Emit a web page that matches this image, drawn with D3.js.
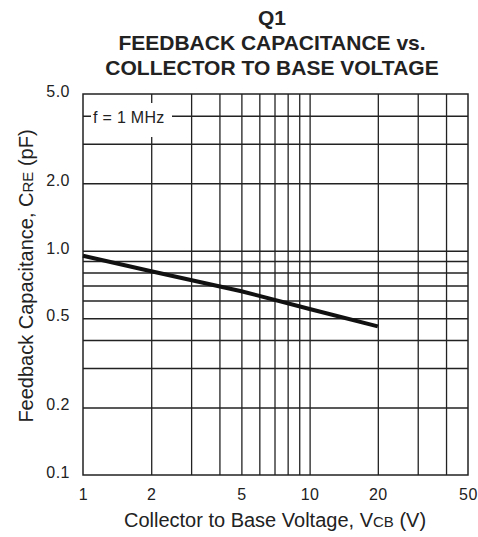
<!DOCTYPE html>
<html>
<head>
<meta charset="utf-8">
<script src="https://cdn.jsdelivr.net/npm/d3@7"></script>
<style>
  body { margin: 0; background: #fff; }
  text { font-family: "Liberation Sans", Arial, sans-serif; fill: #222; }
</style>
</head>
<body>
<div id="chart"></div>
<script>
// size of the picture
var w = 478;
var h = 537;
var margin = { top: 94, right: 10, bottom: 62, left: 83 };

// data
var voltage = [1, 2, 5, 10, 20];
var capacitance = [0.95, 0.81, 0.66, 0.55, 0.46];

// grid lines and tick labels
var xGrid = [2, 3, 4, 5, 6, 7, 8, 9, 10, 20, 30, 40];
var yGrid = [0.2, 0.3, 0.4, 0.5, 0.6, 0.7, 0.8, 0.9, 1.0, 2.0, 3.0, 4.0];
var xTicks = [1, 2, 5, 10, 20, 50];
var yTicks = [0.1, 0.2, 0.5, 1.0, 2.0, 5.0];
var titleLines = ["Q1", "FEEDBACK CAPACITANCE vs.", "COLLECTOR TO BASE VOLTAGE"];

var x = d3.scaleLog().domain([1, 50]).range([margin.left, w - margin.right]);
var y = d3.scaleLog().domain([0.1, 5]).range([h - margin.bottom, margin.top]);

var svg = d3.select("#chart")
  .append("svg")
  .attr("width", w)
  .attr("height", h);

// title
svg.append("g")
  .selectAll("text")
  .data(titleLines)
  .enter()
  .append("text")
  .attr("x", 272)
  .attr("y", function (d, i) { return 25 + i * 25; })
  .attr("text-anchor", "middle")
  .style("font-size", "21px")
  .style("font-weight", "bold")
  .text(function (d) { return d; });

// grid
var gridX = svg.append("g")
  .attr("transform", "translate(0," + (h - margin.bottom) + ")")
  .call(d3.axisBottom(x).tickValues(xGrid).tickFormat("")
    .tickSize(-(h - margin.top - margin.bottom)).tickSizeOuter(0));
var gridY = svg.append("g")
  .attr("transform", "translate(" + margin.left + ",0)")
  .call(d3.axisLeft(y).tickValues(yGrid).tickFormat("")
    .tickSize(-(w - margin.left - margin.right)).tickSizeOuter(0));
[gridX, gridY].forEach(function (g) {
  g.select(".domain").remove();
  g.selectAll("line").attr("stroke", "#222").attr("stroke-width", 1.3);
});

// frame
svg.append("rect")
  .attr("x", margin.left)
  .attr("y", margin.top)
  .attr("width", w - margin.left - margin.right)
  .attr("height", h - margin.top - margin.bottom)
  .attr("fill", "none")
  .attr("stroke", "#222")
  .attr("stroke-width", 1.5);

// tick labels
var xAxis = svg.append("g")
  .attr("transform", "translate(0," + (h - margin.bottom) + ")")
  .call(d3.axisBottom(x).tickValues(xTicks).tickFormat(d3.format("d"))
    .tickSize(0).tickPadding(14));
var yAxis = svg.append("g")
  .attr("transform", "translate(" + margin.left + ",0)")
  .call(d3.axisLeft(y).tickValues(yTicks).tickFormat(d3.format(".1f"))
    .tickSize(0).tickPadding(13));
[xAxis, yAxis].forEach(function (g) {
  g.select(".domain").remove();
  g.selectAll("text")
    .style("font-family", "'Liberation Sans', Arial, sans-serif")
    .style("font-size", "16px")
    .style("letter-spacing", "0.5px")
    .attr("fill", "#222");
});
yAxis.selectAll("text").attr("dy", "0.15em");

// f = 1 MHz note
svg.append("rect")
  .attr("x", margin.left + 8)
  .attr("y", margin.top + 9)
  .attr("width", 81)
  .attr("height", 34)
  .attr("fill", "#fff");
svg.append("text")
  .attr("x", margin.left + 10)
  .attr("y", margin.top + 29)
  .style("font-size", "16px")
  .style("letter-spacing", "0.3px")
  .text("f = 1 MHz");

// curve
var line = d3.line()
  .x(function (d, i) { return x(voltage[i]); })
  .y(function (d) { return y(d); });
svg.append("path")
  .attr("d", line(capacitance))
  .attr("fill", "none")
  .attr("stroke", "#111")
  .attr("stroke-width", 4);

// axis titles
var xLabel = svg.append("text")
  .attr("x", 275)
  .attr("y", 527)
  .attr("text-anchor", "middle")
  .style("font-size", "20px");
xLabel.append("tspan").text("Collector to Base Voltage, V");
xLabel.append("tspan").style("font-size", "15px").text("CB");
xLabel.append("tspan").text(" (V)");

var yLabel = svg.append("text")
  .attr("transform", "translate(33,276) rotate(-90)")
  .attr("text-anchor", "middle")
  .style("font-size", "20px");
yLabel.append("tspan").text("Feedback Capacitance, C");
yLabel.append("tspan").style("font-size", "15px").text("RE");
yLabel.append("tspan").text(" (pF)");
</script>
</body>
</html>
